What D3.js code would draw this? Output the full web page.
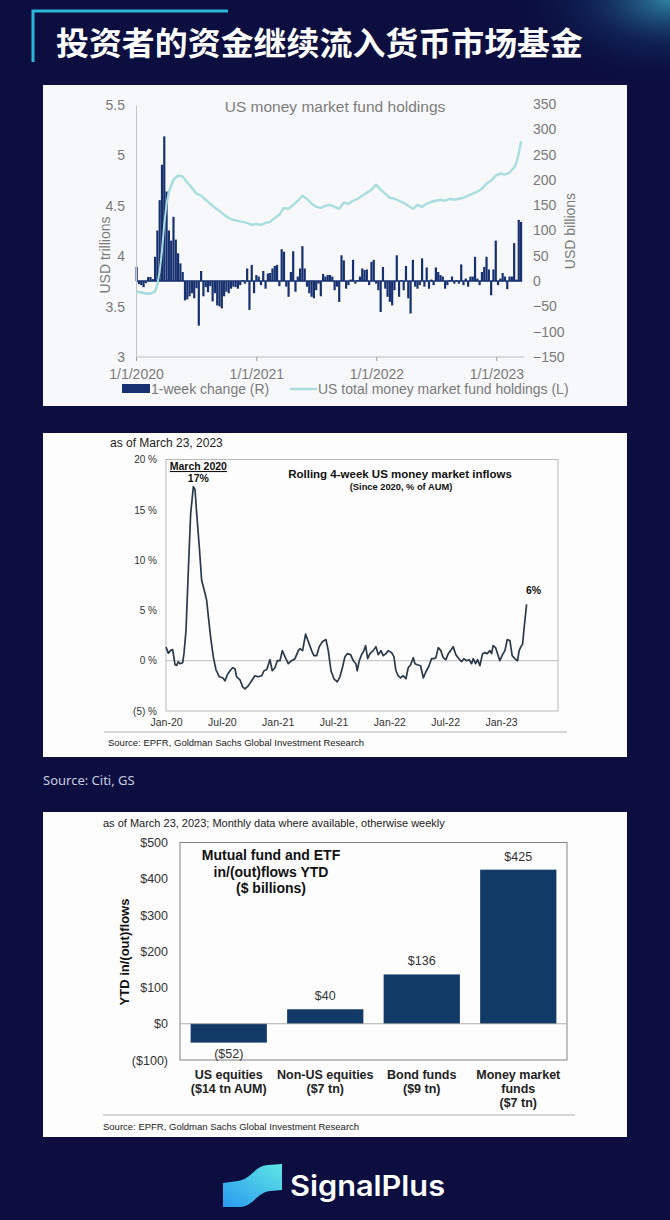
<!DOCTYPE html>
<html><head><meta charset="utf-8">
<script src="https://cdn.jsdelivr.net/npm/d3@7"></script>
<style>body{margin:0;background:#0b0e3e;}svg{display:block}</style>
</head><body>
<svg id="c" width="670" height="1220"></svg>
<script>
// ---------- DATA ----------
const pageTitle = "投资者的资金继续流入货币市场基金";
const sourceNote = "Source:  Citi, GS";

// Chart 1: weekly data starting first week of 2020
const chart1Title = "US money market fund holdings";
const weeklyChange = [28,-6,-8,-12,-4,8,8,4,48,100,
160,230,286,177,100,80,127,82,55,35,
18,-38,-36,-30,-24,-34,-14,-88,20,-30,
-12,-22,-10,-40,-24,-48,-50,-54,-30,-21,
-24,-15,-11,-12,-15,-8,2,-5,25,-57,
32,-24,12,9,-8,20,-15,15,16,25,
30,32,-10,63,58,-11,-31,18,59,-21,
9,25,69,25,-11,-24,-31,-34,-18,-5,
-30,14,9,12,12,9,-18,-11,-41,51,
41,-15,-8,3,42,-5,2,9,25,22,
23,-8,38,42,-5,-18,-61,28,-15,-31,
-41,-48,-18,51,-31,2,-18,30,-34,-64,
42,-11,-15,-8,45,-11,27,-15,3,-8,
27,18,12,9,-15,-8,2,9,-5,2,
-5,33,-8,5,-11,9,9,48,5,-8,
18,28,48,23,-28,23,80,-8,5,16,
9,-16,9,9,75,3,121,117];
const holdingsWeek = [0,2,4,6,8,9,10,11,12,13,14,16,18,20,22,24,26,28,30,32,34,36,38,40,42,44,46,48,50,52,54,56,58,60,62,64,66,68,70,72,74,76,78,80,82,84,86,88,90,92,94,96,98,100,102,104,106,108,110,112,114,116,118,120,122,124,126,128,130,132,134,136,138,140,142,144,146,148,150,152,154,156,158,160,162,164,165,166,167];
const holdingsValue = [3.65,3.64,3.63,3.63,3.65,3.72,3.85,4.05,4.32,4.52,4.64,4.76,4.80,4.79,4.73,4.68,4.62,4.60,4.56,4.52,4.48,4.45,4.41,4.38,4.36,4.35,4.34,4.33,4.31,4.32,4.31,4.33,4.34,4.38,4.41,4.48,4.47,4.51,4.55,4.60,4.57,4.52,4.49,4.48,4.50,4.51,4.49,4.47,4.53,4.52,4.55,4.57,4.60,4.63,4.66,4.71,4.66,4.62,4.58,4.57,4.55,4.53,4.50,4.47,4.51,4.49,4.52,4.54,4.55,4.56,4.55,4.57,4.56,4.57,4.58,4.60,4.62,4.64,4.67,4.72,4.75,4.80,4.82,4.81,4.83,4.88,4.93,5.02,5.14];
const leftTicks = [3,3.5,4,4.5,5,5.5];
const rightTicks = [-150,-100,-50,0,50,100,150,200,250,300,350];
const yearTickLabels = ["1/1/2020","1/1/2021","1/1/2022","1/1/2023"];
const legend1 = ["1-week change (R)","US total money market fund holdings (L)"];

// Chart 2: months since Jan-2020, % of AUM
const inflowMonth = [0,0.25,0.54,0.72,0.97,1.15,1.32,1.5,1.79,1.93,
2.15,2.4,2.65,2.94,3.12,3.3,3.58,3.83,4.19,4.37,
4.55,4.8,5.08,5.37,5.73,6.09,6.34,6.59,6.88,7.16,
7.41,7.59,7.95,8.24,8.49,8.84,9.2,9.56,9.92,10.28,
10.53,10.82,11.17,11.42,11.71,11.96,12.25,12.5,12.78,13.14,
13.5,13.86,14.22,14.4,14.68,15.0,15.29,15.65,15.9,16.19,
16.47,16.83,17.19,17.44,17.73,18.05,18.4,18.69,18.98,19.23,
19.48,19.84,20.12,20.41,20.55,20.77,21.02,21.27,21.45,21.67,
21.92,22.27,22.56,22.81,23.1,23.35,23.63,23.88,24.25,24.49,
24.71,24.96,25.21,25.5,25.78,26.03,26.29,26.57,26.75,27.0,
27.36,27.65,27.93,28.22,28.54,28.79,29.0,29.26,29.54,29.79,
30.08,30.33,30.58,30.86,31.15,31.48,31.76,32.01,32.3,32.58,
32.84,33.01,33.27,33.49,33.73,34.02,34.27,34.52,34.81,34.99,
35.16,35.42,35.63,35.88,36.17,36.42,36.67,36.96,37.2,37.49,
37.78,37.95,38.14,38.32,38.49,38.75];
const inflowPct = [1.35,0.75,1.05,1.1,-0.4,-0.47,-0.1,-0.3,-0.2,0.7,
3.0,9.0,14.6,17.3,17.0,14.6,11.3,8.0,6.7,6.0,
4.4,2.3,0.4,-0.9,-1.6,-1.7,-2.0,-1.4,-1.0,-0.7,
-0.8,-1.6,-1.9,-2.6,-2.8,-2.5,-2.0,-1.5,-1.6,-1.5,
-1.0,-0.9,0.1,-1.0,-0.7,0,0,1.0,0.4,-0.3,
0,0.2,1.0,1.2,1.0,2.65,1.9,1.0,0.5,0.5,
1.4,1.9,2.1,1.0,-1.0,-1.8,-2.1,-1.6,-0.6,0.4,
0.7,0.6,0,-0.3,-1.0,0,0.6,1.0,1.5,0.2,
0.7,1.0,1.4,0.6,1.0,0.5,0.7,1.0,0.8,0.4,
-1.0,-1.5,-1.7,-1.5,-1.8,-0.7,-0.4,0.3,-0.3,-0.4,
-0.5,-1.7,-1.1,-0.6,0.2,0.2,0.3,1.3,1.0,0.3,
0.1,0.7,1.0,1.4,0.6,0.2,-0.1,0.2,0,0.1,
-0.3,0.2,-0.3,0.1,-0.5,0.7,0.8,0.7,1.0,0.7,
1.5,1.3,0.7,0,0.6,1.0,2.1,2.0,0.5,0.2,
0,1.0,1.4,1.65,3.3,5.6];
const pctTicks = [-5,0,5,10,15,20];
const pctTickLabels = ["(5) %","0 %","5 %","10 %","15 %","20 %"];
const monthTicks = [0,6,12,18,24,30,36];
const monthTickLabels = ["Jan-20","Jul-20","Jan-21","Jul-21","Jan-22","Jul-22","Jan-23"];
const chart2Note = "as of March 23, 2023";
const chart2Title = ["Rolling 4-week US money market inflows","(Since 2020, % of AUM)"];
const chart2Source = "Source: EPFR, Goldman Sachs Global Investment Research";

// Chart 3
const fundCategories = [["US equities","($14 tn AUM)"],["Non-US equities","($7 tn)"],["Bond funds","($9 tn)"],["Money market","funds","($7 tn)"]];
const fundFlows = [-52,40,136,425];
const flowLabels = ["($52)","$40","$136","$425"];
const flowTicks = [-100,0,100,200,300,400,500];
const flowTickLabels = ["($100)","$0","$100","$200","$300","$400","$500"];
const chart3Note = "as of March 23, 2023; Monthly data where available, otherwise weekly";
const chart3Title = ["Mutual fund and ETF","in/(out)flows YTD","($ billions)"];
const chart3Source = "Source: EPFR, Goldman Sachs Global Investment Research";

// ---------- DRAW ----------
const svg = d3.select("#c");
const defs = svg.append("defs");
const glow = defs.append("radialGradient").attr("id","glow").attr("cx","1").attr("cy","0").attr("r","0.55");
glow.append("stop").attr("offset","0").attr("stop-color","#3fb6d0").attr("stop-opacity",0.7);
glow.append("stop").attr("offset","0.5").attr("stop-color","#1a4f86").attr("stop-opacity",0.28);
glow.append("stop").attr("offset","1").attr("stop-color","#0b0e3e").attr("stop-opacity",0);
svg.append("rect").attr("width",670).attr("height",1220).attr("fill","#0b0e3e");
svg.append("rect").attr("x",370).attr("y",0).attr("width",300).attr("height",160).attr("fill","url(#glow)");

// Title
svg.append("path").attr("d","M33,62 V11 H228").attr("fill","none").attr("stroke","#2bb5d6").attr("stroke-width",3);
svg.append("text").attr("x",56).attr("y",55).attr("fill","#fff")
  .attr("font-family","'Noto Sans CJK SC'").attr("font-weight",700).attr("font-size",32)
  .attr("textLength",527).attr("lengthAdjust","spacingAndGlyphs").text(pageTitle);

// Panels
svg.append("rect").attr("x",43).attr("y",85).attr("width",584).attr("height",321).attr("fill","#f7f8fa");
svg.append("rect").attr("x",43).attr("y",433).attr("width",584).attr("height",324).attr("fill","#fdfdfd");
svg.append("rect").attr("x",43).attr("y",812).attr("width",584).attr("height",325).attr("fill","#fdfdfd");

const ARIAL = "'Liberation Sans', Arial, sans-serif";

// ---- Chart 1 ----
{
  const g = svg.append("g");
  const start = new Date(2020,0,3);
  const x = d3.scaleTime().domain([new Date(2020,0,1), new Date(2023,3,1)]).range([136,526]);
  const yL = d3.scaleLinear().domain([3,5.5]).range([357,105]);
  const yR = d3.scaleLinear().domain([-150,350]).range([357,104]);
  const dateOf = i => d3.timeDay.offset(start, i*7);

  g.append("text").attr("x",335).attr("y",112).attr("text-anchor","middle").attr("fill","#7d7d7d")
    .attr("font-family",ARIAL).attr("font-size",15.5).text(chart1Title);

  // holdings line (drawn beneath bars like reference where bars overlap)
  const line = d3.line().x(d=>x(dateOf(d[0]))).y(d=>yL(d[1])).curve(d3.curveLinear);
  g.append("path").datum(holdingsWeek.map((w,i)=>[w,holdingsValue[i]])).attr("d",line)
    .attr("fill","none").attr("stroke","#a9dde0").attr("stroke-width",2.4).attr("stroke-linejoin","round");

  // bars
  g.append("g").selectAll("rect").data(weeklyChange).join("rect")
    .attr("x",(d,i)=>x(dateOf(i))-1.1).attr("width",2.2)
    .attr("y",d=>yR(Math.max(0,d))).attr("height",d=>Math.abs(yR(d)-yR(0)))
    .attr("fill","#17306f");
  g.append("line").attr("x1",x(dateOf(0))).attr("x2",x(dateOf(weeklyChange.length-1))+1)
    .attr("y1",yR(0)).attr("y2",yR(0)).attr("stroke","#17306f").attr("stroke-width",1.5);

  // holdings line on top in the early-2020 region is visible in reference; redraw thin overlay
  g.append("path").datum(holdingsWeek.map((w,i)=>[w,holdingsValue[i]]).filter(d=>d[0]<=20)).attr("d",line)
    .attr("fill","none").attr("stroke","#a9dde0").attr("stroke-width",2).attr("stroke-linejoin","round");

  // axes
  const yearDates = [0,1,2,3].map(k=>new Date(2020+k,0,1));
  const axB = g.append("g").attr("transform","translate(0,357)")
    .call(d3.axisBottom(x).tickValues(yearDates).tickSize(4).tickFormat((d,i)=>yearTickLabels[i]));
  axB.select(".domain").attr("d",`M136,0H524`).attr("stroke","#bdbdbd");
  axB.selectAll(".tick line").attr("stroke","#9a9a9a");
  axB.selectAll("text").attr("font-family",ARIAL).attr("font-size",14).attr("fill","#7a7a7a").attr("dy","1.1em");

  const axL = g.append("g").attr("transform","translate(136,0)")
    .call(d3.axisLeft(yL).tickValues(leftTicks).tickSize(0).tickPadding(11).tickFormat(d3.format("")));
  axL.select(".domain").attr("stroke","#c4c4c4");
  axL.selectAll("text").attr("font-family",ARIAL).attr("font-size",14).attr("fill","#7a7a7a");

  const axR = g.append("g").attr("transform","translate(524,0)")
    .call(d3.axisRight(yR).tickValues(rightTicks).tickSize(0).tickPadding(9).tickFormat(d3.format("")));
  axR.select(".domain").remove();
  axR.selectAll("text").attr("font-family",ARIAL).attr("font-size",14).attr("fill","#7a7a7a");

  g.append("text").attr("transform","translate(110,255) rotate(-90)").attr("text-anchor","middle")
    .attr("font-family",ARIAL).attr("font-size",14).attr("fill","#7a7a7a").text("USD trillions");
  g.append("text").attr("transform","translate(575,231) rotate(-90)").attr("text-anchor","middle")
    .attr("font-family",ARIAL).attr("font-size",14).attr("fill","#7a7a7a").text("USD billions");

  // legend
  g.append("rect").attr("x",122).attr("y",384).attr("width",28).attr("height",9).attr("fill","#17306f");
  g.append("text").attr("x",151).attr("y",394).attr("font-family",ARIAL).attr("font-size",14).attr("fill","#7a7a7a").text(legend1[0]);
  g.append("line").attr("x1",290).attr("x2",317).attr("y1",389).attr("y2",389).attr("stroke","#a9dde0").attr("stroke-width",2.4);
  g.append("text").attr("x",318).attr("y",394).attr("font-family",ARIAL).attr("font-size",14).attr("fill","#7a7a7a").text(legend1[1]);
}

// ---- Chart 2 ----
{
  const g = svg.append("g");
  const x = d3.scaleLinear().domain([0,36]).range([166,501]);
  const y = d3.scaleLinear().domain([-5,20]).range([711,459.5]);
  g.append("text").attr("x",110).attr("y",447).attr("font-family",ARIAL).attr("font-size",12).attr("fill","#222").text(chart2Note);
  g.append("rect").attr("x",166).attr("y",459.5).attr("width",392).attr("height",251.5).attr("fill","none").attr("stroke","#a8a8a8").attr("stroke-width",0.8);
  g.append("line").attr("x1",166).attr("x2",558).attr("y1",y(0)).attr("y2",y(0)).attr("stroke","#b0b0b0").attr("stroke-width",0.8);

  const axL = g.append("g").attr("transform","translate(166,0)")
    .call(d3.axisLeft(y).tickValues(pctTicks).tickSize(0).tickPadding(9).tickFormat((d,i)=>pctTickLabels[i]));
  axL.select(".domain").remove();
  axL.selectAll("text").attr("font-family",ARIAL).attr("font-size",10).attr("fill","#333");
  const axB = g.append("g").attr("transform","translate(0,711)")
    .call(d3.axisBottom(x).tickValues(monthTicks).tickSize(0).tickPadding(8).tickFormat((d,i)=>monthTickLabels[i]));
  axB.select(".domain").remove();
  axB.selectAll("text").attr("font-family",ARIAL).attr("font-size",10.5).attr("fill","#333");

  const line = d3.line().x((d,i)=>x(inflowMonth[i])).y(d=>y(d));
  g.append("path").datum(inflowPct).attr("d",line).attr("fill","none").attr("stroke","#2b3a4a").attr("stroke-width",1.7).attr("stroke-linejoin","round");

  g.append("text").attr("x",400).attr("y",478).attr("text-anchor","middle").attr("font-family",ARIAL).attr("font-weight",700).attr("font-size",11.5).attr("fill","#111").text(chart2Title[0]);
  g.append("text").attr("x",401).attr("y",490).attr("text-anchor","middle").attr("font-family",ARIAL).attr("font-weight",700).attr("font-size",9.3).attr("fill","#111").text(chart2Title[1]);

  const peakIdx = inflowPct.indexOf(d3.max(inflowPct));
  g.append("text").attr("x",x(inflowMonth[peakIdx])+5).attr("y",470).attr("text-anchor","middle").attr("font-family",ARIAL).attr("font-weight",700).attr("font-size",10.5).attr("fill","#111").attr("text-decoration","underline").text("March 2020");
  g.append("text").attr("x",x(inflowMonth[peakIdx])+5).attr("y",482).attr("text-anchor","middle").attr("font-family",ARIAL).attr("font-weight",700).attr("font-size",10.5).attr("fill","#111").text(d3.format(".0f")(inflowPct[peakIdx])+"%");
  const last = inflowPct.length-1;
  g.append("text").attr("x",x(inflowMonth[last])+7).attr("y",y(inflowPct[last])-10).attr("text-anchor","middle").attr("font-family",ARIAL).attr("font-weight",700).attr("font-size",10.5).attr("fill","#111").text(d3.format(".0f")(inflowPct[last])+"%");

  g.append("line").attr("x1",104).attr("x2",567).attr("y1",732).attr("y2",732).attr("stroke","#9a9a9a").attr("stroke-width",0.8);
  g.append("text").attr("x",108).attr("y",746).attr("font-family",ARIAL).attr("font-size",9.5).attr("fill","#222").text(chart2Source);
}

// Source note
svg.append("text").attr("x",43).attr("y",785).attr("font-family","'Noto Sans', sans-serif").attr("font-size",13).attr("fill","#c9cbe0").text(sourceNote);

// ---- Chart 3 ----
{
  const g = svg.append("g");
  const x = d3.scaleBand().domain(fundCategories.map(d=>d.join(" "))).range([180,567]).paddingInner(0.21).paddingOuter(0.11);
  const y = d3.scaleLinear().domain([-100,500]).range([1060,842.5]);
  g.append("text").attr("x",103).attr("y",827).attr("font-family",ARIAL).attr("font-size",11).attr("fill","#222").text(chart3Note);
  g.append("rect").attr("x",180).attr("y",842.5).attr("width",387).attr("height",217.5).attr("fill","none").attr("stroke","#777").attr("stroke-width",0.9);

  const axL = g.append("g").attr("transform","translate(180,0)")
    .call(d3.axisLeft(y).tickValues(flowTicks).tickSize(0).tickPadding(12).tickFormat((d,i)=>flowTickLabels[i]));
  axL.select(".domain").remove();
  axL.selectAll("text").attr("font-family",ARIAL).attr("font-size",12.5).attr("fill","#333");

  g.selectAll("rect.bar").data(fundFlows).join("rect").attr("class","bar")
    .attr("x",(d,i)=>x(fundCategories[i].join(" "))).attr("width",x.bandwidth())
    .attr("y",d=>y(Math.max(0,d))).attr("height",d=>Math.abs(y(d)-y(0)))
    .attr("fill","#123a66");
  g.append("line").attr("x1",180).attr("x2",567).attr("y1",y(0)).attr("y2",y(0)).attr("stroke","#9a9a9a").attr("stroke-width",0.8);

  g.selectAll("text.val").data(fundFlows).join("text").attr("class","val")
    .attr("x",(d,i)=>x(fundCategories[i].join(" "))+x.bandwidth()/2)
    .attr("y",d=>d>=0? y(d)-9 : y(d)+15)
    .attr("text-anchor","middle").attr("font-family",ARIAL).attr("font-size",12.5).attr("fill","#333")
    .text((d,i)=>flowLabels[i]);

  fundCategories.forEach((lines,i)=>{
    const cx = x(lines.join(" "))+x.bandwidth()/2;
    lines.forEach((t,j)=>{
      g.append("text").attr("x",cx).attr("y",1079+j*14).attr("text-anchor","middle")
        .attr("font-family",ARIAL).attr("font-weight",700).attr("font-size",12.5).attr("fill","#222").text(t);
    });
  });

  chart3Title.forEach((t,j)=>{
    g.append("text").attr("x",271).attr("y",860+j*16.5).attr("text-anchor","middle")
      .attr("font-family",ARIAL).attr("font-weight",700).attr("font-size",14).attr("fill","#111").text(t);
  });

  g.append("text").attr("transform","translate(129,952) rotate(-90)").attr("text-anchor","middle")
    .attr("font-family",ARIAL).attr("font-weight",700).attr("font-size",13).attr("fill","#111").text("YTD in/(out)flows");

  g.append("line").attr("x1",103).attr("x2",575).attr("y1",1115).attr("y2",1115).attr("stroke","#9a9a9a").attr("stroke-width",0.8);
  g.append("text").attr("x",103).attr("y",1130).attr("font-family",ARIAL).attr("font-size",9.5).attr("fill","#222").text(chart3Source);
}

// ---- Logo ----
{
  const lg = defs.append("linearGradient").attr("id","logoG").attr("x1","0").attr("y1","1").attr("x2","1").attr("y2","0");
  lg.append("stop").attr("offset","0").attr("stop-color","#2a9af0");
  lg.append("stop").attr("offset","1").attr("stop-color","#5ee6e4");
  svg.append("path").attr("d","M223,1183 L238,1181 C252,1179 254,1166 268,1165 L282,1164 L282,1190 L270,1191 C256,1193 254,1206 240,1207 L223,1207 Z")
    .attr("fill","url(#logoG)");
  svg.append("text").attr("x",290).attr("y",1196).attr("fill","#fff").attr("font-family","Inter, 'Open Sans', sans-serif")
    .attr("font-weight",600).attr("font-size",28).attr("textLength",155).attr("lengthAdjust","spacingAndGlyphs").text("SignalPlus");
}
</script>
</body></html>
